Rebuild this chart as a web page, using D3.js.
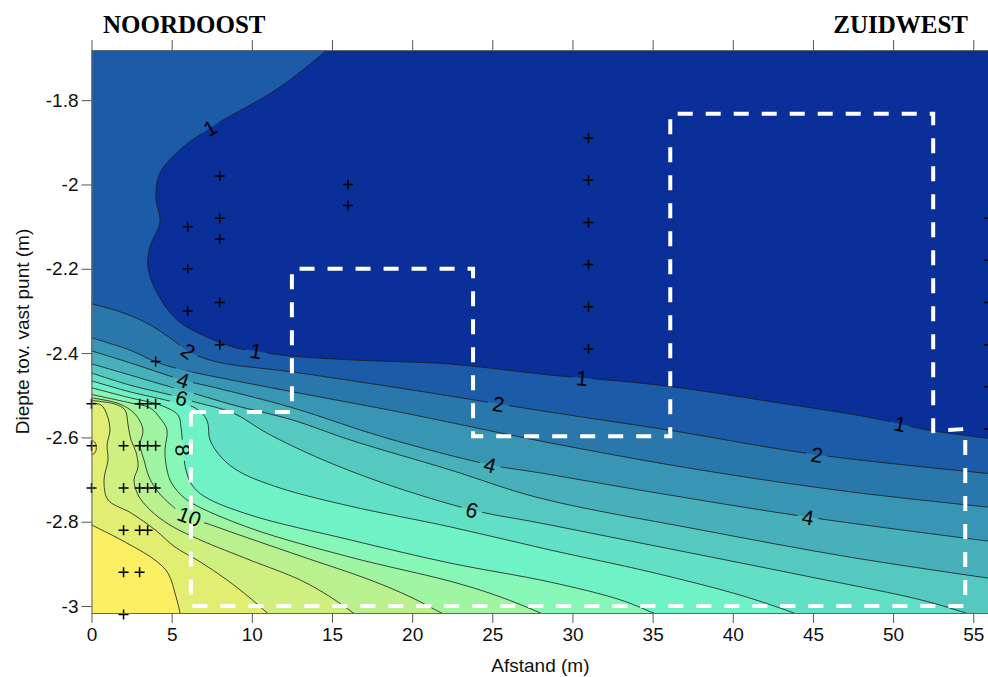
<!DOCTYPE html>
<html>
<head>
<meta charset="utf-8">
<script src="https://cdn.jsdelivr.net/npm/d3@7"></script>
<style>
  html, body { margin: 0; padding: 0; background: #fff; }
  svg { display: block; }
</style>
</head>
<body>
<svg id="chart" width="988" height="677"></svg>
<script>
// ---- data -------------------------------------------------------------
// Contour levels; band k is the zone between level k and level k+1.
const levels = [1, 2, 3, 4, 5, 6, 7, 8, 9, 10, 11, 12, 13];
const bandColors = ["#0b2f99", "#1b5ba7", "#2a78ab", "#3895b3", "#47b0ba", "#55c9c0",
                    "#62e0c6", "#6ef2c6", "#86f7b6", "#a0f5a2", "#b9f18f", "#cfef80",
                    "#e1ee72", "#fbf063"];

// Isolines as [afstand (m), diepte (m)], running from the NE/top side to the SW/bottom side.
const iso1 = [[15.06,-1.669],[11.76,-1.769],[7.39,-1.866],[5.52,-1.918],[4.27,-1.973],[4.02,-2.030],[4.27,-2.089],[3.65,-2.148],[3.52,-2.196],[4.09,-2.257],[5.33,-2.321],[7.20,-2.362],[9.07,-2.388],[10.26,-2.395],[11.94,-2.405],[16.13,-2.416],[22.36,-2.426],[28.6,-2.452],[35.46,-2.476],[42.51,-2.516],[48.75,-2.554],[52.12,-2.582],[56.35,-2.604]];
const iso2 = [[-0.41,-2.279],[1.78,-2.302],[3.46,-2.329],[4.90,-2.364],[6.14,-2.398],[7.83,-2.421],[12.57,-2.445],[19.24,-2.483],[28.6,-2.540],[35.89,-2.582],[45.25,-2.641],[56.35,-2.687]];
const iso3 = [[-0.41,-2.359],[2.40,-2.393],[4.02,-2.421],[5.71,-2.440],[7.83,-2.457],[12.57,-2.492],[19.24,-2.540],[28.6,-2.613],[37.95,-2.677],[47.31,-2.729],[56.35,-2.767]];
const iso4 = [[-0.41,-2.390],[2.40,-2.423],[5.71,-2.464],[7.83,-2.483],[12.57,-2.530],[18.18,-2.599],[24.86,-2.665],[27.97,-2.684],[34.84,-2.729],[44.69,-2.789],[56.35,-2.848]];
const iso5 = [[-0.41,-2.421],[2.40,-2.452],[4.27,-2.473],[6.33,-2.495],[8.83,-2.523],[12.57,-2.559],[16.13,-2.606],[22.36,-2.677],[27.97,-2.744],[37.95,-2.819],[47.31,-2.884],[56.35,-2.936]];
const iso6 = [[-0.41,-2.442],[2.40,-2.476],[4.90,-2.499],[6.46,-2.516],[8.83,-2.542],[10.95,-2.590],[14.06,-2.647],[18.18,-2.708],[23.73,-2.772],[27.97,-2.803],[34.84,-2.855],[44.19,-2.926],[51.68,-2.985],[54.48,-3.016],[55.73,-3.033]];
const iso7 = [[-0.41,-2.461],[2.40,-2.492],[4.58,-2.511],[6.46,-2.530],[7.20,-2.559],[7.39,-2.606],[8.14,-2.649],[9.26,-2.682],[11.76,-2.720],[16.13,-2.763],[22.36,-2.812],[28.6,-2.867],[34.84,-2.919],[40.45,-2.974],[43.76,-3.016],[44.81,-3.033]];
const iso8 = [[-0.41,-2.478],[2.40,-2.506],[4.27,-2.523],[5.40,-2.547],[5.58,-2.575],[5.71,-2.630],[5.89,-2.677],[6.27,-2.713],[7.08,-2.741],[9.89,-2.784],[16.13,-2.843],[22.36,-2.898],[28.6,-2.943],[32.96,-2.985],[35.02,-3.016],[36.08,-3.033]];
const iso9 = [[-0.41,-2.495],[2.40,-2.518],[3.65,-2.530],[4.27,-2.554],[4.71,-2.582],[4.58,-2.630],[4.65,-2.665],[4.90,-2.701],[5.40,-2.729],[6.14,-2.753],[9.89,-2.815],[16.13,-2.884],[22.55,-2.943],[25.48,-2.978],[27.97,-3.016],[28.91,-3.033]];
const iso10 = [[-0.41,-2.504],[1.78,-2.521],[2.77,-2.547],[3.21,-2.582],[3.03,-2.618],[3.27,-2.653],[3.59,-2.694],[4.15,-2.729],[4.96,-2.760],[5.71,-2.782],[8.01,-2.815],[13.01,-2.881],[17.37,-2.938],[19.87,-2.978],[21.80,-3.016],[22.67,-3.033]];
const iso11 = [[-0.41,-2.511],[1.47,-2.521],[2.09,-2.535],[2.28,-2.570],[2.46,-2.606],[2.77,-2.634],[2.90,-2.670],[2.65,-2.701],[2.90,-2.736],[3.65,-2.772],[4.90,-2.808],[6.77,-2.843],[9.89,-2.891],[13.01,-2.938],[14.88,-2.978],[16.31,-3.016],[16.87,-3.033]];
const iso12 = [[-0.41,-2.518],[0.59,-2.523],[0.97,-2.547],[1.15,-2.582],[0.97,-2.618],[1.03,-2.653],[0.78,-2.701],[1.03,-2.748],[2.46,-2.779],[3.96,-2.819],[5.21,-2.860],[6.77,-2.895],[8.45,-2.938],[9.89,-2.981],[10.95,-3.016],[11.45,-3.033]];
const iso13 = [[-0.41,-2.800],[1.84,-2.843],[3.96,-2.891],[4.77,-2.922],[5.27,-2.978],[5.52,-3.016],[5.58,-3.033]];
// small closed pocket above level 13 against the left edge
const islet13 = [[-0.1,-2.608],[0.2,-2.611],[0.3,-2.624],[0.2,-2.637],[-0.1,-2.640]];

// Inline contour labels: [level, afstand, diepte]
const labelSpots = [
  [1, 7.39, -1.866], [1, 10.26, -2.393], [1, 30.6, -2.459], [1, 50.43, -2.570],
  [2, 5.71, -2.412], [2, 25.35, -2.528], [2, 45.25, -2.641],
  [4, 5.71, -2.464], [4, 24.86, -2.665], [4, 44.69, -2.789],
  [6, 5.64, -2.506], [6, 23.73, -2.772],
  [8, 5.71, -2.630],
  [10, 6.14, -2.784]
];

// Measurement points: [afstand, diepte]
const samplePoints = [
  [0,-2.52],[0,-2.62],[0,-2.72],
  [2,-2.62],[2,-2.72],[2,-2.82],[2,-2.92],[2,-3.02],
  [3,-2.52],[3,-2.62],[3,-2.72],[3,-2.82],[3,-2.92],
  [3.5,-2.52],[3.5,-2.62],[3.5,-2.72],[3.5,-2.82],
  [4,-2.42],[4,-2.52],[4,-2.62],[4,-2.72],
  [6,-2.10],[6,-2.20],[6,-2.30],
  [8,-1.98],[8,-2.08],[8,-2.13],[8,-2.28],[8,-2.38],
  [16,-2.00],[16,-2.05],
  [31,-1.89],[31,-1.99],[31,-2.09],[31,-2.19],[31,-2.29],[31,-2.39],
  [56,-2.08],[56,-2.18],[56,-2.28],[56,-2.38],[56,-2.48],[56,-2.58]
];

// Dashed outline of the excavation zones
const zoneOutline = [[6.2,-2.54],[12.5,-2.54],[12.5,-2.2],[23.8,-2.2],[23.8,-2.597],[36.1,-2.597],
                     [36.1,-1.832],[52.5,-1.832],[52.5,-2.585],[54.5,-2.58],[54.5,-3.0],[6.2,-3.0],[6.2,-2.54]];

const xTicks = [0, 5, 10, 15, 20, 25, 30, 35, 40, 45, 50, 55];
const yTicks = [-1.8, -2, -2.2, -2.4, -2.6, -2.8, -3];
const sideLeft = "NOORDOOST";
const sideRight = "ZUIDWEST";
const xTitle = "Afstand (m)";
const yTitle = "Diepte tov. vast punt (m)";

// ---- drawing ------------------------------------------------------------
const W = 988, H = 677;
const xDomain = [0, 56], yDomain = [-3.0165, -1.681];
const x = d3.scaleLinear().domain(xDomain).range([91.5, 989.3]);
const y = d3.scaleLinear().domain(yDomain).range([613, 50]);

const isolines = [iso1, iso2, iso3, iso4, iso5, iso6, iso7, iso8, iso9, iso10, iso11, iso12, iso13]
  .map((pts, i) => ({ level: levels[i], pts }));

const svg = d3.select("#chart");
const defs = svg.append("defs");

const px0 = x(xDomain[0]), px1 = x(xDomain[1]), py0 = y(yDomain[1]), py1 = y(yDomain[0]);
defs.append("clipPath").attr("id", "plotClip")
  .append("rect").attr("x", px0).attr("y", py0).attr("width", px1 - px0).attr("height", py1 - py0);

const plot = svg.append("g").attr("clip-path", "url(#plotClip)");

// lowest band covers the whole field
plot.append("rect").attr("x", px0).attr("y", py0).attr("width", px1 - px0).attr("height", py1 - py0)
  .attr("fill", bandColors[0]);

const lineGen = d3.line().x(d => x(d[0])).y(d => y(d[1])).curve(d3.curveCatmullRom.alpha(0.5));
const closedGen = d3.line().x(d => x(d[0])).y(d => y(d[1])).curve(d3.curveCatmullRomClosed.alpha(0.5));

// higher values lie towards the bottom-left: close each isoline around that corner
const farCorners = [[70, -5], [-10, -5], [-10, -1]];
isolines.forEach(({ level, pts }) => {
  const d = lineGen(pts) + farCorners.map(c => `L${x(c[0])},${y(c[1])}`).join("") + "Z";
  plot.append("path").attr("d", d).attr("fill", bandColors[level]);
});
plot.append("path").attr("d", closedGen(islet13)).attr("fill", bandColors[13]);

// label placement along the isolines
function placeOnLine(pts, qx, qy) {
  let best = null;
  for (let i = 0; i < pts.length - 1; i++) {
    const ax = x(pts[i][0]), ay = y(pts[i][1]), bx = x(pts[i + 1][0]), by = y(pts[i + 1][1]);
    const dx = bx - ax, dy = by - ay, l2 = dx * dx + dy * dy;
    let t = l2 ? ((qx - ax) * dx + (qy - ay) * dy) / l2 : 0;
    t = Math.max(0, Math.min(1, t));
    const cx = ax + t * dx, cy = ay + t * dy;
    const dist = (cx - qx) ** 2 + (cy - qy) ** 2;
    if (!best || dist < best.dist) best = { x: cx, y: cy, dist, angle: Math.atan2(dy, dx) * 180 / Math.PI };
  }
  let a = best.angle;
  if (a > 90) a -= 180;
  if (a < -90) a += 180;
  return { x: best.x, y: best.y, angle: a };
}

const labels = labelSpots.map(([lev, lx, ly]) => {
  const line = isolines.find(l => l.level === lev);
  const p = placeOnLine(line.pts, x(lx), y(ly));
  return { text: String(lev), ...p };
});

// gaps in the isolines behind the labels
const mask = defs.append("mask").attr("id", "labelGaps")
  .attr("maskUnits", "userSpaceOnUse").attr("x", 0).attr("y", 0).attr("width", W).attr("height", H);
mask.append("rect").attr("x", 0).attr("y", 0).attr("width", W).attr("height", H).attr("fill", "#fff");
labels.forEach(l => {
  const w = l.text.length * 11 + 10;
  mask.append("rect").attr("x", -w / 2).attr("y", -10).attr("width", w).attr("height", 20)
    .attr("transform", `translate(${l.x},${l.y}) rotate(${l.angle})`).attr("fill", "#000");
});

const strokes = plot.append("g").attr("mask", "url(#labelGaps)")
  .attr("fill", "none").attr("stroke", "#1b1b1b").attr("stroke-width", 0.8);
isolines.forEach(({ pts }) => strokes.append("path").attr("d", lineGen(pts)));
strokes.append("path").attr("d", closedGen(islet13));

plot.append("g").selectAll("text").data(labels).join("text")
  .attr("transform", d => `translate(${d.x},${d.y}) rotate(${d.angle})`)
  .attr("text-anchor", "middle").attr("dy", "0.36em")
  .attr("font-family", "Arial, 'Liberation Sans', sans-serif").attr("font-size", 21)
  .attr("fill", "#000").text(d => d.text);

// dashed zone outline
plot.append("path").attr("d", d3.line().x(d => x(d[0])).y(d => y(d[1]))(zoneOutline))
  .attr("fill", "none").attr("stroke", "#fff").attr("stroke-width", 4)
  .attr("stroke-dasharray", "15 13");

// measurement crosses
svg.append("g").attr("stroke", "#000").attr("stroke-width", 1.5)
  .selectAll("path").data(samplePoints).join("path")
  .attr("d", d => {
    const cx = x(d[0]), cy = y(d[1]);
    return `M${cx - 5},${cy}H${cx + 5}M${cx},${cy - 5}V${cy + 5}`;
  });

// axes
const fontFam = "Arial, 'Liberation Sans', sans-serif";
const axB = svg.append("g").attr("transform", `translate(0,${py1})`)
  .call(d3.axisBottom(x).tickValues(xTicks).tickSize(10).tickPadding(5).tickSizeOuter(0));
const axT = svg.append("g").attr("transform", `translate(0,${py0})`)
  .call(d3.axisTop(x).tickValues(xTicks).tickSize(10).tickFormat("").tickSizeOuter(0));
const axL = svg.append("g").attr("transform", `translate(${px0},0)`)
  .call(d3.axisLeft(y).tickValues(yTicks).tickSize(10).tickPadding(3).tickSizeOuter(0)
    .tickFormat(d => String(d)));
[axB, axT, axL].forEach(g => {
  g.selectAll("path.domain").attr("stroke", "#666").attr("stroke-width", 1);
  g.selectAll(".tick line").attr("stroke", "#555").attr("stroke-width", 1);
  g.selectAll(".tick text").attr("font-family", fontFam).attr("font-size", 19).attr("fill", "#111");
});

svg.append("text").attr("x", (px0 + px1) / 2).attr("y", 672).attr("text-anchor", "middle")
  .attr("font-family", fontFam).attr("font-size", 19).attr("fill", "#111").text(xTitle);
svg.append("text").attr("transform", `translate(29,${(py0 + py1) / 2}) rotate(-90)`)
  .attr("text-anchor", "middle")
  .attr("font-family", fontFam).attr("font-size", 19).attr("fill", "#111").text(yTitle);

const serif = "'Times New Roman', 'Liberation Serif', serif";
svg.append("text").attr("x", 103).attr("y", 33).attr("font-family", serif).attr("font-weight", "bold")
  .attr("font-size", 25).attr("fill", "#000").text(sideLeft);
svg.append("text").attr("x", 968).attr("y", 33).attr("text-anchor", "end").attr("font-family", serif)
  .attr("font-weight", "bold").attr("font-size", 25).attr("fill", "#000").text(sideRight);
</script>
</body>
</html>
